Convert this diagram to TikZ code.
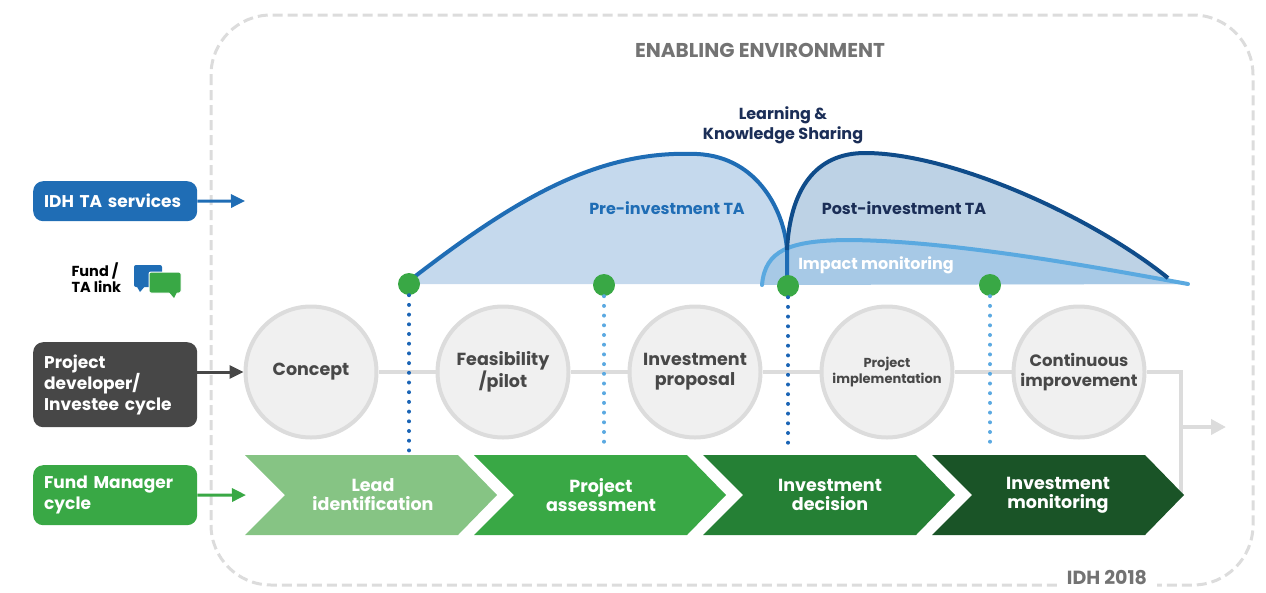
\documentclass[tikz,border=0pt]{standalone}
\usepackage{fontspec}
\setmainfont{Poppins}
\usepackage{tikz}
\usetikzlibrary{positioning,arrows.meta}
\hyphenpenalty=10000

\definecolor{taBlue}{HTML}{1F6DB5}
\definecolor{devGray}{HTML}{474747}
\definecolor{fundGreen}{HTML}{39A845}
\definecolor{envLine}{HTML}{DCDCDC}
\definecolor{envText}{HTML}{737373}
\definecolor{stageFill}{HTML}{F0F0F0}
\definecolor{stageText}{HTML}{484848}
\definecolor{navyText}{HTML}{1B2E57}
\definecolor{preFill}{HTML}{C5D9ED}
\definecolor{postFill}{HTML}{BDD2E5}
\definecolor{impFill}{HTML}{A7C9E6}
\definecolor{postLine}{HTML}{0F4C8A}
\definecolor{impLine}{HTML}{5AA9E0}
\definecolor{dotDark}{HTML}{1A64B5}
\definecolor{dotLight}{HTML}{5BA9E1}
\definecolor{chevA}{HTML}{86C484}
\definecolor{chevB}{HTML}{39A845}
\definecolor{chevC}{HTML}{258035}
\definecolor{chevD}{HTML}{1A5427}

\begin{document}
\begin{tikzpicture}[x=1pt,y=-1pt,
  stage/.style={circle, draw=envLine, line width=4pt, fill=stageFill, minimum size=131pt, inner sep=0pt, align=center, text=stageText, font=\fontsize{17.5}{20}\selectfont\bfseries},
  sidebox/.style={rounded corners=10pt, anchor=north west, text width=142pt, inner xsep=11pt, minimum width=164pt, align=left, text=white, font=\fontsize{17}{21}\selectfont\bfseries},
  link/.style={line width=3pt, -{Triangle[length=14pt,width=13pt]}},
  chevtext/.style={align=center, text=white, font=\fontsize{17.5}{19}\selectfont\bfseries},
  milestone/.style={circle, fill=fundGreen, minimum size=22pt, inner sep=0pt},
  tadots/.style={line width=4pt, line cap=round, dash pattern=on 0pt off 9.7pt}
]
\useasboundingbox (0,0) rectangle (1266,592);

% enabling environment frame
\draw[envLine, line width=3pt, dash pattern=on 10pt off 5pt, rounded corners=60pt] (211,15) rectangle (1253,585);
\node[fill=white, inner xsep=10pt, inner ysep=0pt, minimum height=20pt, text=envText, font=\fontsize{19}{21}\selectfont\bfseries] at (1107,578) (year) {IDH 2018};
\node[text=envText, font=\fontsize{20}{22}\selectfont\bfseries] at (760,50) (env) {ENABLING ENVIRONMENT};
\node[align=center, text=navyText, font=\fontsize{16}{20}\selectfont\bfseries] at (783,125) (learn) {Learning \&\\Knowledge Sharing};

% TA curves
\fill[preFill] (409,284) -- (409,281) .. controls (520,195) and (600,150) .. (697,154) .. controls (760,157) and (785,215) .. (787,250) -- (787,284) -- cycle;
\fill[postFill] (787,284) -- (787,250) .. controls (790,190) and (815,153) .. (865,153) .. controls (950,153) and (1090,215) .. (1168,278) -- (1180,284) -- cycle;
\fill[impFill] (762,285) .. controls (765,250) and (790,241) .. (845,240) .. controls (950,240) and (1100,268) .. (1188,284) -- cycle;
\draw[impLine, line width=4pt, line cap=round] (762,285) .. controls (765,250) and (790,241) .. (845,240) .. controls (950,240) and (1100,268) .. (1188,284);
\draw[taBlue, line width=4pt] (409,281) .. controls (520,195) and (600,150) .. (697,154) .. controls (760,157) and (785,215) .. (787,250) -- (787,284);
\draw[postLine, line width=4pt] (787,250) .. controls (790,190) and (815,153) .. (865,153) .. controls (950,153) and (1090,215) .. (1168,278);
\node[text=taBlue, font=\fontsize{16}{18}\selectfont\bfseries] at (667,208) (pre) {Pre-investment TA};
\node[text=navyText, font=\fontsize{16}{18}\selectfont\bfseries] at (904,208) (post) {Post-investment TA};
\node[text=white, font=\fontsize{16}{18}\selectfont\bfseries] at (876,265) (impact) {Impact monitoring};

% left legend
\node[sidebox, fill=taBlue, minimum height=40pt] at (33,181) (ta) {IDH TA services};
\node[sidebox, fill=devGray, minimum height=85pt] at (33,342) (dev) {Project\\developer/\\Investee cycle};
\node[sidebox, fill=fundGreen, minimum height=60pt] at (33,465) (fm) {Fund Manager\\cycle};
\node[anchor=west, align=left, font=\fontsize{14.5}{16}\selectfont\bfseries] at (68,278) (fundlink) {Fund /\\TA link};
\fill[taBlue, rounded corners=2pt] (134,265) rectangle (162,287);
\fill[taBlue] (136,285) -- (140,292) -- (146,285) -- cycle;
\filldraw[fundGreen, draw=white, line width=1pt, rounded corners=2pt] (149,272) rectangle (181,293);
\fill[fundGreen] (169,292) -- (174,298) -- (177,292) -- cycle;

% investee cycle
\node[stage] at (311,372) (concept) {Concept};
\node[stage, right=57pt of concept] (feas) {Feasibility\\/pilot};
\node[stage, right=57pt of feas] (proposal) {Investment\\proposal};
\node[stage, right=57pt of proposal, font=\fontsize{13}{16}\selectfont\bfseries] (implement) {Project\\implementation};
\node[stage, right=57pt of implement, font=\fontsize{16.5}{20}\selectfont\bfseries] (improve) {Continuous\\improvement};
\draw[envLine, line width=4pt] (concept) -- (feas);
\draw[envLine, line width=4pt] (feas) -- (proposal);
\draw[envLine, line width=4pt] (proposal) -- (implement);
\draw[envLine, line width=4pt] (implement) -- (improve);
\coordinate (corner) at (1181,372);
\coordinate (tip) at (1181,494);
\coordinate (bend) at (1181,427);
\coordinate (out) at (1226,427);
\draw[envLine, line width=4pt] (improve.east) -- (corner) -- (tip);
\draw[envLine, line width=4pt, -{Triangle[length=15pt,width=15pt]}] (bend) -- (out);

% fund manager cycle
\fill[chevA] (245,455) -- (458,455) -- (497,495) -- (458,535) -- (245,535) -- (285,495) -- cycle;
\fill[chevB] (474,455) -- (687,455) -- (726,495) -- (687,535) -- (474,535) -- (514,495) -- cycle;
\fill[chevC] (703,455) -- (916,455) -- (955,495) -- (916,535) -- (703,535) -- (743,495) -- cycle;
\fill[chevD] (932,455) -- (1145,455) -- (1184,495) -- (1145,535) -- (932,535) -- (972,495) -- cycle;
\node[chevtext] at (373,495) (lead) {Lead\\identification};
\node[chevtext] at (601,495) (assess) {Project\\assessment};
\node[chevtext] at (830,495) (decide) {Investment\\decision};
\node[chevtext] at (1058,495) (monitor) {Investment\\monitoring};

% fund / TA links
\coordinate (chevtop) at (0,451);
\node[milestone] at (409,284) (m1) {};
\node[milestone] at (604,285) (m2) {};
\node[milestone] at (788,286) (m3) {};
\node[milestone] at (990,285) (m4) {};
\draw[tadots, dotDark] (m1) -- (m1 |- chevtop);
\draw[tadots, dotLight] (m2) -- (m2 |- chevtop);
\draw[tadots, dotDark] (m3) -- (m3 |- chevtop);
\draw[tadots, dotLight] (m4) -- (m4 |- chevtop);

% legend arrows
\coordinate (taend) at (245,201);
\coordinate (fmend) at (246,495);
\draw[link, taBlue] (ta.east) -- (taend);
\draw[link, devGray] (dev.east |- concept.west) -- (concept.west);
\draw[link, fundGreen] (fm.east) -- (fmend);
\end{tikzpicture}
\end{document}
